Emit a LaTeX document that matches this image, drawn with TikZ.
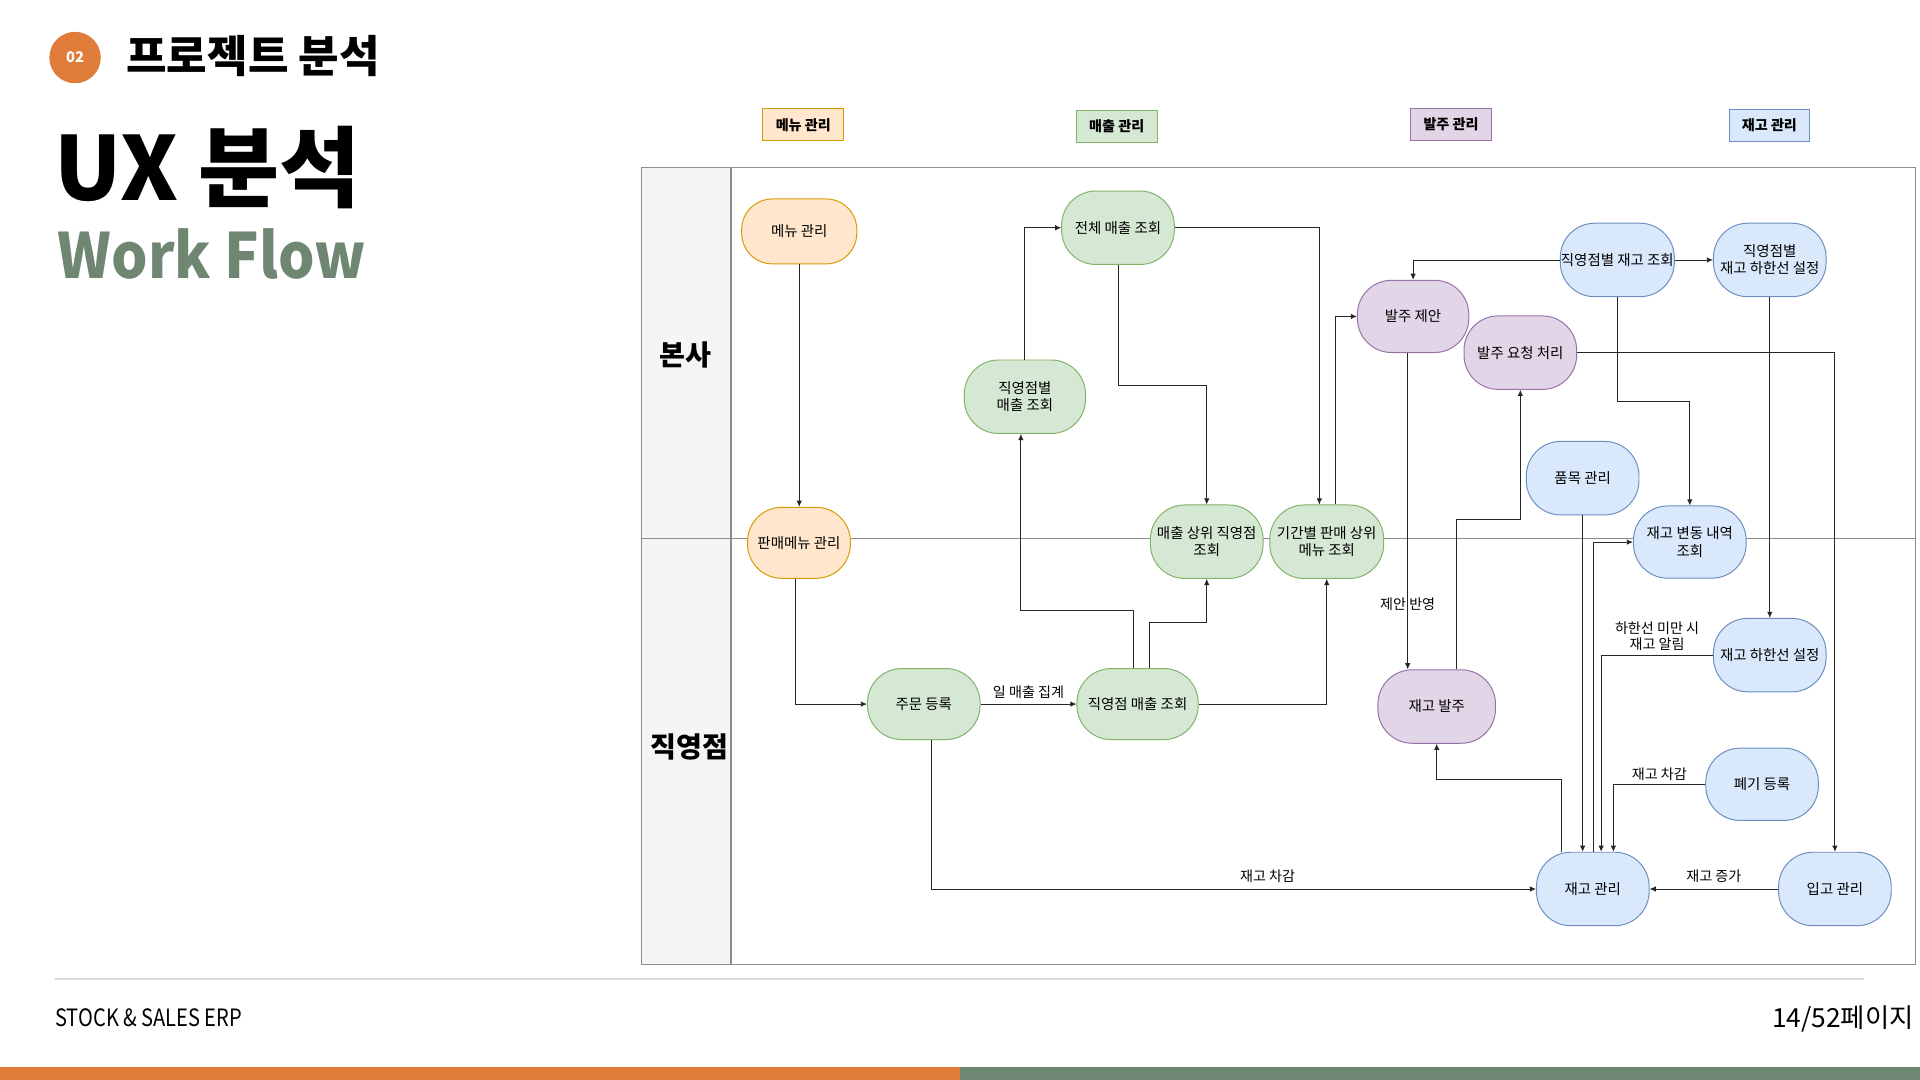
\documentclass[tikz,border=0pt]{standalone}
\usepackage{fontspec}
\setmainfont{Noto Sans CJK KR}
\usetikzlibrary{arrows.meta}
\definecolor{orng}{HTML}{E07C3A}
\definecolor{sage}{HTML}{6E8672}
\definecolor{oFill}{HTML}{FFE6CC}\definecolor{oLine}{HTML}{D79B00}
\definecolor{gFill}{HTML}{D5E8D4}\definecolor{gLine}{HTML}{82B366}
\definecolor{pFill}{HTML}{E1D5E7}\definecolor{pLine}{HTML}{9673A6}
\definecolor{bFill}{HTML}{DAE8FC}\definecolor{bLine}{HTML}{6C8EBF}
\definecolor{laneGray}{HTML}{8C8C8C}
\definecolor{laneFill}{HTML}{F5F5F5}
\definecolor{footLine}{HTML}{D9D9D9}
\begin{document}
\begin{tikzpicture}[x=1pt,y=-1pt,
  proc/.style={rounded corners=28pt, draw, line width=0.8pt, align=center, inner sep=0.5pt,
    minimum width=92pt, minimum height=60pt, font=\fontsize{11.8}{14}\selectfont},
  oproc/.style={proc, fill=oFill, draw=oLine},
  gproc/.style={proc, fill=gFill, draw=gLine},
  pproc/.style={proc, fill=pFill, draw=pLine},
  bproc/.style={proc, fill=bFill, draw=bLine},
  tag/.style={draw, line width=0.8pt, minimum width=66pt, minimum height=26pt, inner sep=0pt,
    font=\bfseries\fontsize{11.5}{12}\selectfont},
  arr/.style={-{Latex[length=5pt,width=4.5pt]}, line width=0.7pt, draw=black!85},
  elabel/.style={font=\fontsize{11.5}{13.5}\selectfont, align=center, inner sep=1.5pt},
  lanelabel/.style={font=\bfseries\fontsize{23}{26}\selectfont, inner sep=0pt}
]
% canvas
\fill[white] (0,0) rectangle (1568,882);
\useasboundingbox (0,0) rectangle (1568,882);

% header
\node[circle, fill=orng, minimum size=42pt, inner sep=0pt, text=white,
  font=\bfseries\fontsize{12}{12}\selectfont] (badge) at (61.3,47) {02};
\node[anchor=west, inner sep=0pt, font=\bfseries\fontsize{36}{40}\selectfont] (sect) at (103,46) {프로젝트 분석};
\node[anchor=base west, inner sep=0pt, font=\bfseries\fontsize{72}{74}\selectfont] (ttl) at (44,164) {UX 분석};
\node[anchor=base west, inner sep=0pt, text=sage, font=\bfseries\fontsize{51}{54}\selectfont] (sub) at (47,227.3) {\scalebox{0.92}[1]{Work Flow}};

% footer
\draw[line width=1.5pt, footLine] (45,799.5) -- (1522,799.5);
\node[anchor=west, inner sep=0pt, font=\fontsize{19.5}{20}\selectfont] (brand) at (45,831.5) {\scalebox{0.84}[1]{STOCK \& SALES ERP}};
\node[anchor=east, inner sep=0pt, font=\fontsize{21.5}{22}\selectfont] (page) at (1563,832) {14/52페이지};
\fill[orng] (0,871) rectangle (784,882);
\fill[sage] (784,871) rectangle (1568,882);

% swimlanes
\fill[laneFill] (524,137) rectangle (597,788);
\draw[laneGray, line width=0.9pt] (524,137) rectangle (1564,788);
\draw[laneGray, line width=0.9pt] (597,137) -- (597,788);
\draw[laneGray, line width=0.9pt] (524,439.6) -- (1564,439.6);
\node[lanelabel] (hq) at (560,290) {본사};
\node[lanelabel] (br) at (563,610) {직영점};

% category tags
\node[tag, fill=oFill, draw=oLine] (tagM) at (656,102) {메뉴 관리};
\node[tag, fill=gFill, draw=gLine] (tagS) at (912,103.5) {매출 관리};
\node[tag, fill=pFill, draw=pLine] (tagO) at (1185,101.7) {발주 관리};
\node[tag, fill=bFill, draw=bLine] (tagI) at (1445,102.4) {재고 관리};

% process nodes
\node[oproc, minimum width=94pt, minimum height=53pt, rounded corners=25pt] (mm) at (652.7,189) {메뉴 관리};
\node[oproc, minimum width=84pt, minimum height=58pt] (pm) at (652.5,443.3) {판매메뉴 관리};
\node[gproc] (tot) at (913,186) {전체 매출 조회};
\node[gproc, minimum width=99pt] (bys) at (837,324) {직영점별\\매출 조회};
\node[gproc, minimum height=58pt] (ord) at (754.4,575) {주문 등록};
\node[gproc, minimum width=99pt, minimum height=58pt] (dss) at (929,575) {직영점 매출 조회};
\node[gproc] (tops) at (985.5,442.4) {매출 상위 직영점\\조회};
\node[gproc, minimum width=93pt] (per) at (1083.5,442.4) {기간별 판매 상위\\메뉴 조회};
\node[pproc, minimum width=91pt, minimum height=59pt] (sug) at (1154,258.4) {발주 제안};
\node[pproc] (req) at (1241.6,288) {발주 요청 처리};
\node[pproc, minimum width=96pt] (ro) at (1173.3,577) {재고 발주};
\node[bproc] (bsi) at (1320.8,212.3) {직영점별 재고 조회};
\node[bproc] (bsl) at (1445.3,212.3) {직영점별\\재고 하한선 설정};
\node[bproc] (item) at (1292.5,390.5) {품목 관리};
\node[bproc, minimum height=59pt] (chg) at (1380,442.7) {재고 변동 내역\\조회};
\node[bproc] (low) at (1445.3,535) {재고 하한선 설정};
\node[bproc, minimum height=59pt] (disp) at (1439,640.5) {폐기 등록};
\node[bproc] (inv) at (1300.8,726) {재고 관리};
\node[bproc] (rcv) at (1498.5,726) {입고 관리};

% connectors
\draw[arr] (mm.south) -- (mm.south |- pm.north);
\draw[arr] ([xshift=-3pt]pm.south) |- (ord.west);
\draw[arr] (ord) -- node[elabel, above=3pt] {일 매출 집계} (dss);
\draw[arr] ([xshift=-3pt]dss.north) -- ++(0,-47.3) -| ([xshift=-3.3pt]bys.south);
\draw[arr] ([xshift=9.7pt]dss.north) -- ++(0,-37) -| (tops.south);
\draw[arr] (bys.north) |- (tot.west);
\draw[arr] (tot.south) -- ++(0,98) -| (tops.north);
\draw[arr] (tot.east) -| ([xshift=-6pt]per.north);
\draw[arr] (dss.east) -| (per.south);
\draw[arr] ([xshift=6.8pt]per.north) |- (sug.west);
\draw[arr] (bsi.west) -| (sug.north);
\draw[arr] (bsi) -- (bsl);
\draw[arr] ([xshift=-4.4pt]sug.south) -- node[elabel, pos=0.795] {제안 반영} ([xshift=-4.4pt]sug.south |- ro.north);
\draw[arr] ([xshift=16pt]ro.north) -- ++(0,-122) -| (req.south);
\draw[arr] (req.east) -| (rcv.north);
\draw[arr] (bsi.south) -- ++(0,85.2) -| (chg.north);
\draw[arr] (bsl.south) -- (low.north);
\draw[arr] (item.south) -- (item.south |- inv.north);
\draw[arr] ([xshift=0.2pt]inv.north) |- (chg.west);
\draw[arr] (low.west) -| node[elabel, pos=0.25, above=1.5pt] {하한선 미만 시\\재고 알림} ([xshift=6.8pt]inv.north);
\draw[arr] (disp.west) -| node[elabel, pos=0.25, above=1.5pt] {재고 차감} ([xshift=16.8pt]inv.north);
\draw[arr] ([xshift=-25.8pt]inv.north) -- ++(0,-59) -| (ro.south);
\draw[arr] (rcv) -- node[elabel, above=3pt] {재고 증가} (inv);
\draw[arr] ([xshift=6.3pt]ord.south) |- node[elabel, pos=0.778, above=3pt] {재고 차감} (inv.west);
\end{tikzpicture}
\end{document}
